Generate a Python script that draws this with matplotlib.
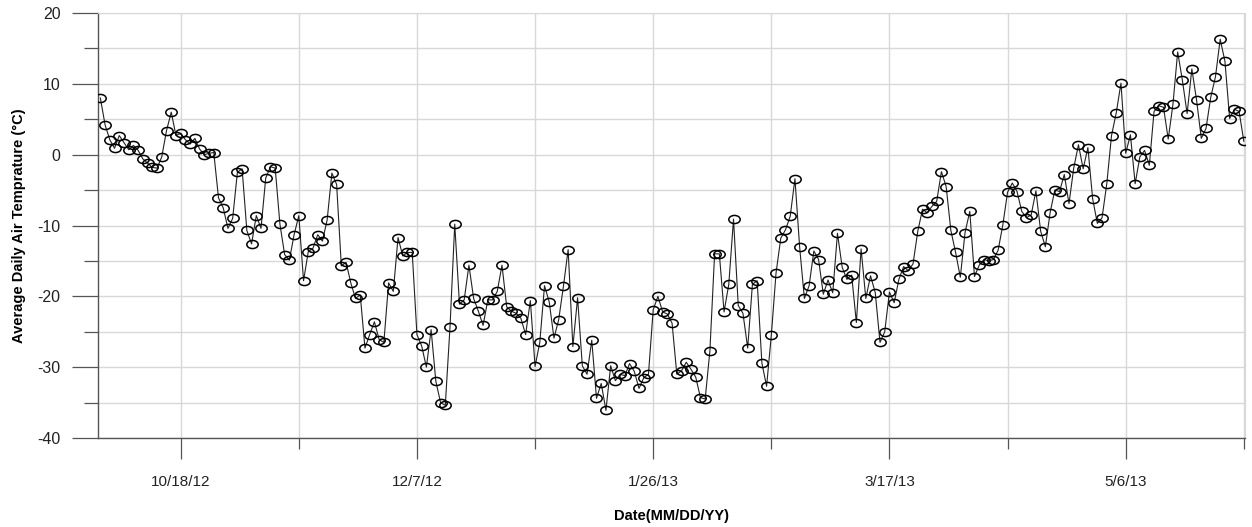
import numpy as np
import pandas as pd
import matplotlib
matplotlib.use('Agg')
import matplotlib.pyplot as plt
import matplotlib.dates as mdates
from matplotlib.path import Path
from matplotlib.ticker import FixedLocator, MultipleLocator, FuncFormatter

# daily mean air temperature, 10/1/12 .. 5/31/13
temps = [
    8.0, 4.2, 2.1, 0.9, 2.7, 1.7, 0.7, 1.3, 0.6, -0.6,
    -1.2, -1.8, -1.9, -0.3, 3.4, 6.0, 2.7, 3.0, 2.1, 1.5,
    2.3, 0.8, 0.0, 0.2, 0.3, -6.1, -7.5, -10.4, -9.0, -2.5,
    -2.0, -10.7, -12.6, -8.6, -10.4, -3.3, -1.7, -1.9, -9.8, -14.1,
    -14.9, -11.3, -8.6, -17.8, -13.7, -13.2, -11.3, -12.2, -9.2, -2.6,
    -4.2, -15.7, -15.2, -18.1, -20.3, -19.8, -27.3, -25.4, -23.6, -26.1,
    -26.5, -18.1, -19.3, -11.7, -14.3, -13.8, -13.8, -25.4, -27.0, -30.0,
    -24.7, -32.0, -35.0, -35.4, -24.3, -9.8, -21.1, -20.5, -15.6, -20.3,
    -22.1, -24.1, -20.5, -20.5, -19.3, -15.6, -21.5, -22.1, -22.4, -23.1,
    -25.4, -20.6, -29.9, -26.5, -18.5, -20.8, -25.9, -23.3, -18.6, -13.4,
    -27.1, -20.2, -29.8, -31.0, -26.2, -34.4, -32.3, -36.1, -29.8, -31.9,
    -31.0, -31.2, -29.5, -30.6, -33.0, -31.5, -31.0, -21.9, -20.0, -22.2,
    -22.5, -23.8, -31.0, -30.5, -29.3, -30.3, -31.4, -34.3, -34.5, -27.7,
    -14.0, -14.0, -22.2, -18.3, -9.1, -21.3, -22.4, -27.3, -18.3, -17.8,
    -29.4, -32.7, -25.5, -16.7, -11.8, -10.6, -8.7, -3.4, -13.1, -20.3,
    -18.5, -13.6, -14.8, -19.7, -17.7, -19.5, -11.1, -15.9, -17.6, -17.0,
    -23.7, -13.3, -20.3, -17.1, -19.5, -26.5, -25.0, -19.4, -20.9, -17.6,
    -15.8, -16.4, -15.4, -10.8, -7.7, -8.2, -7.3, -6.6, -2.4, -4.5,
    -10.7, -13.8, -17.3, -11.0, -8.0, -17.2, -15.6, -14.8, -15.0, -14.8,
    -13.5, -9.9, -5.3, -4.0, -5.2, -8.0, -8.9, -8.5, -5.1, -10.8,
    -13.0, -8.2, -5.0, -5.2, -2.8, -6.9, -1.9, 1.4, -2.0, 1.0,
    -6.2, -9.7, -8.9, -4.1, 2.7, 5.9, 10.1, 0.2, 2.8, -4.1,
    -0.3, 0.6, -1.5, 6.1, 6.9, 6.7, 2.2, 7.1, 14.5, 10.5,
    5.8, 12.1, 7.7, 2.3, 3.7, 8.1, 11.0, 16.3, 13.2, 5.1,
    6.4, 6.1, 1.9,
]
dates = pd.date_range('2012-10-01', periods=len(temps), freq='D')

tick_dates = pd.to_datetime(['2012-10-18', '2012-12-07', '2013-01-26', '2013-03-17', '2013-05-06'])
minor_dates = tick_dates - pd.Timedelta(days=25)
minor_dates = minor_dates.append(pd.DatetimeIndex([tick_dates[-1] + pd.Timedelta(days=25)]))

plt.rcParams['font.family'] = ['Liberation Sans', 'DejaVu Sans']
plt.rcParams['axes.unicode_minus'] = False

fig = plt.figure(figsize=(12.52, 5.27), dpi=100)
ax = fig.add_axes([98 / 1252, 1 - 438 / 527, (1245 - 98) / 1252, (438 - 13) / 527])

# open ellipse marker like the original
circ = Path.unit_circle()
ellipse = Path(circ.vertices * np.array([1.4, 1.0]), circ.codes)

ax.plot(dates, temps, color='#222222', linewidth=0.8,
        marker=ellipse, markersize=8.2, markerfacecolor='none',
        markeredgecolor='black', markeredgewidth=1.1, zorder=3)

ax.set_xlim(mdates.date2num(pd.Timestamp('2012-09-30 12:00')),
            mdates.date2num(pd.Timestamp('2013-05-31 06:00')))
ax.set_ylim(-40, 20)

ax.xaxis.set_major_locator(FixedLocator(mdates.date2num(tick_dates)))
ax.xaxis.set_minor_locator(FixedLocator(mdates.date2num(minor_dates)))


def fmt_date(x, pos):
    d = mdates.num2date(x)
    return f"{d.month}/{d.day}/{d.year % 100:02d}"


ax.xaxis.set_major_formatter(FuncFormatter(fmt_date))
ax.yaxis.set_major_locator(MultipleLocator(10))
ax.yaxis.set_minor_locator(MultipleLocator(5))

ax.grid(which='both', color='#d8d8d8', linewidth=1.0, zorder=0)
ax.set_axisbelow(True)

for s in ['top', 'right']:
    ax.spines[s].set_color('#d8d8d8')
for s in ['left', 'bottom']:
    ax.spines[s].set_color('#555555')
    ax.spines[s].set_linewidth(1.0)

ax.tick_params(axis='y', which='major', length=19, width=0.9, color='#555555',
               labelsize=11.5, pad=8, labelcolor='#222222')
ax.tick_params(axis='y', which='minor', length=10, width=0.9, color='#555555')
ax.tick_params(axis='x', which='major', length=15, width=0.9, color='#555555',
               labelsize=11, pad=12, labelcolor='#222222')
ax.tick_params(axis='x', which='minor', length=8, width=0.9, color='#555555')

ax.set_xlabel('Date(MM/DD/YY)', fontsize=10.5, fontweight='bold', labelpad=14)
ax.set_ylabel('Average Daily Air Temprature (°C)', fontsize=10.5, fontweight='bold', labelpad=8)

fig.savefig('out.png', dpi=100)
